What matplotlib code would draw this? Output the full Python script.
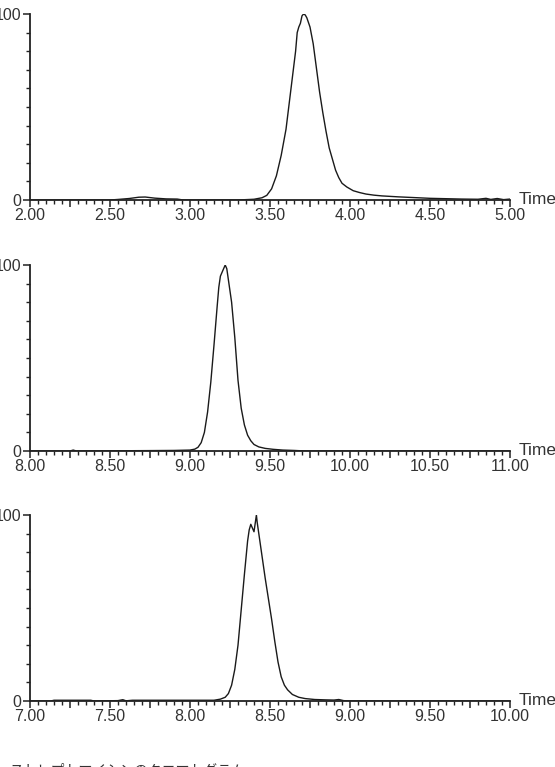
import matplotlib
matplotlib.use("Agg")
import matplotlib.pyplot as plt
from matplotlib.ticker import MultipleLocator, FuncFormatter

plt.rcParams['font.family'] = ['Liberation Sans', 'DejaVu Sans']

# Panel 1 (2.00 - 5.00 min)
t1 = [2.00, 2.50, 2.55, 2.62, 2.68, 2.72, 2.78, 2.85, 2.92, 2.95, 3.00, 3.30, 3.40, 3.45, 3.48,
      3.51, 3.54, 3.57, 3.60, 3.62, 3.64, 3.66, 3.67, 3.68, 3.69, 3.70, 3.71, 3.72, 3.73, 3.75,
      3.77, 3.79, 3.81, 3.83, 3.85, 3.87, 3.89, 3.91, 3.93, 3.95, 3.98, 4.02, 4.06, 4.10, 4.15,
      4.20, 4.30, 4.40, 4.50, 4.60, 4.70, 4.80, 4.85, 4.88, 4.92, 4.96, 5.00]
v1 = [0.0, 0.0, 0.3, 0.8, 1.5, 1.6, 1.0, 0.6, 0.5, 0.1, 0.0, 0.0, 0.4, 1.2, 2.5,
      6, 13, 24, 38, 52, 66, 80, 90, 93, 95, 99, 100, 99.5, 98, 93,
      84, 71, 58, 47, 37, 28, 22, 16, 12, 9, 7, 5, 4, 3.2, 2.6,
      2.2, 1.7, 1.3, 0.9, 0.7, 0.5, 0.4, 0.9, 0.3, 0.8, 0.2, 0.5]

# Panel 2 (8.00 - 11.00 min)
t2 = [8.00, 8.25, 8.27, 8.29, 8.50, 8.72, 8.90, 9.00, 9.03, 9.05, 9.07, 9.09, 9.11, 9.13, 9.15,
      9.17, 9.18, 9.19, 9.20, 9.21, 9.22, 9.23, 9.24, 9.26, 9.28, 9.30, 9.32, 9.34, 9.36, 9.38,
      9.40, 9.43, 9.47, 9.52, 9.58, 9.65, 9.70, 9.75, 11.00]
v2 = [0, 0, 0.5, 0, 0.1, 0.2, 0.3, 0.5, 1.0, 2, 4.5, 10, 21, 37, 57,
      78, 88, 94, 96, 98, 100, 98, 92, 80, 61, 38, 23, 14, 8.5, 5.5,
      3.5, 2.2, 1.4, 0.9, 0.5, 0.3, 0.1, 0, 0]

# Panel 3 (7.00 - 10.00 min)
t3 = [7.00, 7.13, 7.15, 7.38, 7.40, 7.55, 7.58, 7.60, 7.64, 8.15, 8.19, 8.22, 8.24, 8.26, 8.28,
      8.30, 8.32, 8.34, 8.36, 8.37, 8.38, 8.39, 8.40, 8.41, 8.415, 8.42, 8.43, 8.45, 8.47, 8.49,
      8.51, 8.53, 8.55, 8.57, 8.59, 8.61, 8.64, 8.68, 8.72, 8.78, 8.85, 8.90, 8.93, 8.96, 9.00, 10.00]
v3 = [0, 0, 0.4, 0.4, 0, 0.2, 0.7, 0.1, 0.4, 0.4, 1, 2, 4, 8.5, 17,
      30, 49, 68, 86, 92, 95, 93, 91, 97, 100, 96, 90, 78, 66, 55,
      44, 32, 21, 13, 8.5, 6, 3.5, 2, 1.3, 0.8, 0.6, 0.5, 0.8, 0.2, 0, 0]

panels = [(t1, v1, 2.0, 5.0), (t2, v2, 8.0, 11.0), (t3, v3, 7.0, 10.0)]
y_label_text = "%"
x_label_text = "Time"
caption = "ストレプトマイシンのクロマトグラム"

W, H = 555, 767
fig = plt.figure(figsize=(W / 100, H / 100), dpi=100)
zero_px = [200, 451, 701]
top_px = [14, 265, 515]
left_px, right_px = 30, 510

axis_col = '#222222'
text_col = '#333333'

for (t, v, x0, x1), zp, tp in zip(panels, zero_px, top_px):
    ax = fig.add_axes([left_px / W, 1 - zp / H, (right_px - left_px) / W, (zp - tp) / H])
    ax.plot(t, v, color='#1a1a1a', lw=1.0)
    ax.set_xlim(x0, x1)
    ax.set_ylim(0, 100)
    for s in ['top', 'right']:
        ax.spines[s].set_visible(False)
    for s in ['left', 'bottom']:
        ax.spines[s].set_color(axis_col)
        ax.spines[s].set_linewidth(1.3)
    ax.yaxis.set_major_locator(MultipleLocator(100))
    ax.yaxis.set_minor_locator(MultipleLocator(10))
    ax.xaxis.set_major_locator(MultipleLocator(0.25))
    ax.xaxis.set_minor_locator(MultipleLocator(0.05))
    ax.xaxis.set_major_formatter(FuncFormatter(
        lambda x, p: f"{x:.2f}" if abs(x * 2 - round(x * 2)) < 1e-6 else ""))
    ax.yaxis.set_major_formatter(FuncFormatter(lambda y, p: f"{int(round(y))}"))
    ax.tick_params(axis='both', which='major', direction='out', length=5, width=1.1,
                   color=axis_col, labelsize=11.5, labelcolor=text_col, pad=1)
    ax.tick_params(axis='both', which='minor', direction='out', length=3, width=1.0,
                   color=axis_col)
    ax.set_ylabel(y_label_text, fontsize=11, color=text_col, labelpad=-2)
    ax.text(1.017, 0.005, x_label_text, transform=ax.transAxes, fontsize=12.5,
            color=text_col, ha='left', va='center')

fig.text(10 / W, 1 - 763 / H, caption, family=['Noto Sans CJK JP', 'DejaVu Sans'],
         fontsize=10, color='#333333', ha='left', va='top')

fig.savefig("out.png", dpi=100)
